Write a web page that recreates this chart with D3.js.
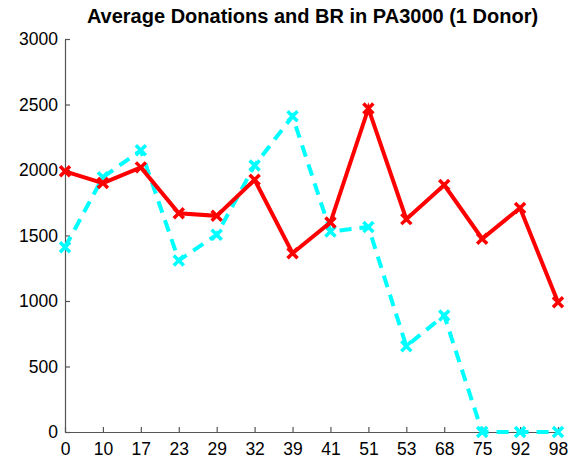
<!DOCTYPE html>
<html><head><meta charset="utf-8">
<script src="https://cdn.jsdelivr.net/npm/d3@7"></script>
<style>body{margin:0;background:#fff}</style>
</head><body>
<script>
const categories = ["0","10","17","23","29","32","39","41","51","53","68","75","92","98"];
const donations = [1990,1900,2020,1670,1650,1925,1365,1600,2470,1625,1885,1475,1710,990];
const br = [1410,1945,2150,1310,1505,2035,2410,1530,1565,655,890,0,0,0];
const yTicks = [0,500,1000,1500,2000,2500,3000];

const W = 583, H = 466;
const m = {left:65, right:25, top:39, bottom:34};
const svg = d3.select("body").append("svg").attr("width",W).attr("height",H);
const x = d3.scalePoint().domain(categories).range([m.left, W-m.right]);
const y = d3.scaleLinear().domain([0,3000]).range([H-m.bottom, m.top]);

svg.append("text").attr("x",312.5).attr("y",23).attr("text-anchor","middle")
  .attr("font-family","Liberation Sans, Arial, sans-serif").attr("font-weight","bold")
  .attr("font-size",20).text("Average Donations and BR in PA3000 (1 Donor)");

const xa = svg.append("g").attr("transform",`translate(0,${H-m.bottom})`)
  .call(d3.axisBottom(x).tickSizeInner(-5).tickSizeOuter(0).tickPadding(11));
const ya = svg.append("g").attr("transform",`translate(${m.left},0)`)
  .call(d3.axisLeft(y).tickValues(yTicks).tickFormat(d3.format("d")).tickSizeInner(-5).tickSizeOuter(0).tickPadding(7));
[xa,ya].forEach(a=>{
  a.selectAll("path,line").attr("stroke","#555").attr("stroke-width",1.2);
  a.selectAll("text").attr("font-family","Liberation Sans, Arial, sans-serif").attr("font-size",17.5).attr("fill","#000");
});

function series(vals,color,dash){
  const pts = vals.map((v,i)=>[x(categories[i]), y(v)]);
  svg.append("path").attr("d",d3.line()(pts)).attr("fill","none")
    .attr("stroke",color).attr("stroke-width",4).attr("stroke-dasharray",dash||null);
  const s=5;
  svg.append("g").selectAll("path").data(pts).join("path")
    .attr("d",d=>`M${d[0]-s},${d[1]-s}L${d[0]+s},${d[1]+s}M${d[0]-s},${d[1]+s}L${d[0]+s},${d[1]-s}`)
    .attr("stroke",color).attr("stroke-width",3.5);
}
series(br,"#00ffff","12,8");
series(donations,"#ff0000");
</script>
</body></html>
